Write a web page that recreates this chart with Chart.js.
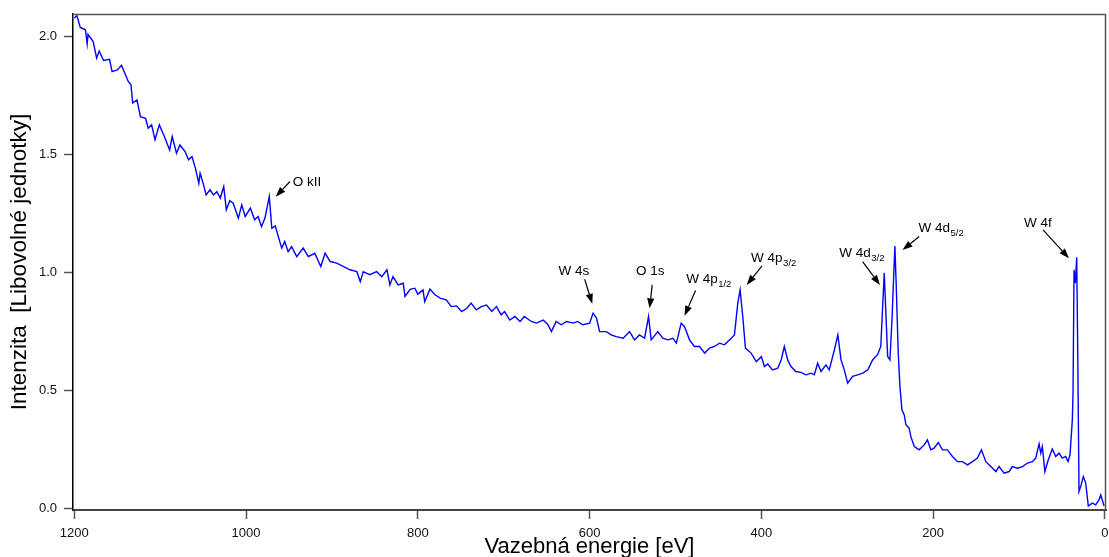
<!DOCTYPE html>
<html><head><meta charset="utf-8">
<script src="https://cdn.jsdelivr.net/npm/chart.js@4/dist/chart.umd.min.js"></script>
<style>html,body{margin:0;padding:0;background:#fff;overflow:hidden}canvas{display:block}</style>
</head><body>
<canvas id="c" width="1109" height="557"></canvas>
<script>
// Binding energy [eV] and intensity
const energy = [
1200,1197,1193,1187,1185,1184,1178,1174,1171,1166,1159,1156,1150,1145,1142,1137,1134,1132,1127,1123,
1117,1114,1110,1106,1101,1096,1089,1086,1081,1077,1071,1067,1063,1059,1055,1053.5,1050,1046.5,1042,1038,
1034,1030,1026,1023,1019,1015,1009,1005,1001,995,990,986,982,978,973,970,966,962.5,958.5,955,
951,947,941,933.5,927.5,920,913,908,902,894.5,887,879,871,867,863.6,856,848,842,836,832.5,
829,823,817,815,809,803.5,800,794,792,786,780,774,767,761,755,749,743,738,732,726,
720,714,708.5,703,699,693,687,681,676,668,662,654,648.5,644.5,639,633,627,619,614,608,
600,596,592,588.4,580.6,575,569,561,553.5,547.7,542,536,531.4,528.3,520.6,514.8,509,503,499,493.4,
489.5,483.7,478,472,466,460.5,454.7,448.8,443,437,431.4,427.5,424.8,421.7,418.6,412,406,404,400,396.5,
392.7,387,381,377,373.3,369.4,365.5,360,354,348,342,338.4,334.5,330.6,324.8,321,315,311,307.3,303.5,
299.6,293.8,288,282,276,270.6,264.8,261,257,253,250.4,248,244.6,243,240.7,238.7,236.4,233.7,231.7,228,
226,222,216.3,210.5,206.7,202.8,199,194,189.2,183.4,177.6,171.7,166,160,154.3,148.5,143.8,138.7,132.9,127,
123.3,117.4,111.6,107.8,102,96,90.3,84.5,80.6,76.7,74.8,72.9,70,66,61.3,57.4,53.5,49.7,45.8,43,
40.7,38,37.2,36,34.5,32.9,31.7,30.2,28.3,25.2,22.4,19.4,14.7,10.8,7,4.9,1
];
const intensity = [
2.08,2.09,2.04,2.03,1.97,2.01,1.98,1.91,1.94,1.90,1.905,1.853,1.86,1.88,1.853,1.81,1.797,1.72,1.733,1.662,
1.655,1.613,1.627,1.564,1.627,1.585,1.521,1.578,1.507,1.542,1.514,1.479,1.493,1.444,1.38,1.422,1.38,1.33,1.352,1.33,
1.344,1.317,1.366,1.267,1.306,1.295,1.232,1.288,1.239,1.274,1.225,1.239,1.196,1.232,1.323,1.189,1.199,1.154,1.105,1.133,
1.09,1.111,1.069,1.105,1.069,1.083,1.027,1.083,1.048,1.041,1.027,1.013,1.005,0.963,1.005,0.992,1.005,0.984,1.013,0.949,
0.984,0.949,0.956,0.90,0.93,0.935,0.91,0.928,0.878,0.931,0.907,0.893,0.886,0.857,0.86,0.836,0.85,0.872,0.843,0.857,
0.864,0.836,0.857,0.822,0.836,0.80,0.815,0.794,0.815,0.794,0.787,0.80,0.78,0.751,0.794,0.78,0.794,0.787,0.794,0.78,
0.787,0.829,0.808,0.751,0.751,0.737,0.73,0.723,0.751,0.716,0.737,0.723,0.815,0.716,0.751,0.723,0.716,0.723,0.702,0.787,
0.772,0.716,0.688,0.688,0.66,0.681,0.688,0.702,0.695,0.716,0.737,0.872,0.928,0.815,0.681,0.66,0.624,0.631,0.645,0.603,
0.614,0.589,0.596,0.631,0.688,0.631,0.603,0.582,0.578,0.568,0.575,0.568,0.617,0.582,0.61,0.589,0.674,0.737,0.631,0.589,
0.533,0.561,0.568,0.575,0.589,0.631,0.653,0.688,0.999,0.645,0.631,0.80,1.114,0.942,0.66,0.518,0.42,0.398,0.356,0.342,
0.306,0.264,0.25,0.271,0.292,0.25,0.257,0.281,0.25,0.25,0.222,0.20,0.20,0.186,0.20,0.215,0.25,0.20,0.179,0.158,
0.179,0.151,0.158,0.179,0.172,0.179,0.194,0.20,0.215,0.275,0.236,0.264,0.158,0.208,0.253,0.222,0.236,0.215,0.222,0.20,
0.229,0.377,0.49,1.013,0.956,1.066,0.66,0.073,0.094,0.137,0.109,0.012,0.024,0.017,0.038,0.059,0.012
];
const xTicks = [1200, 1000, 800, 600, 400, 200, 0];
const yTicks = [0, 0.5, 1.0, 1.5, 2.0];

// Peak annotations (data units: eV / intensity)
const labelMain  = ['O kII', 'W 4s', 'O 1s', 'W 4p', 'W 4p', 'W 4d', 'W 4d', 'W 4f'];
const labelSub   = ['', '', '', '1/2', '3/2', '3/2', '5/2', ''];
const labelAlign = ['left', 'center', 'center', 'left', 'left', 'left', 'left', 'left'];
const labelE     = [945.7, 618.4, 529.3, 487.6, 412, 309.3, 217.1, 94.2];
const labelI     = [1.366, 0.992, 0.992, 0.956, 1.044, 1.069, 1.175, 1.196];
const arrowFromE = [948.8, 605.8, 527.1, 476.7, 399.2, 282.2, 216.3, 72.1];
const arrowFromI = [1.387, 0.973, 0.949, 0.925, 1.03, 1.048, 1.154, 1.182];
const arrowToE   = [965.5, 596.9, 530.2, 489.5, 417.1, 262, 235.7, 41.9];
const arrowToI   = [1.323, 0.869, 0.850, 0.818, 0.949, 0.949, 1.097, 1.062];

const FAM = '"Liberation Sans", Arial, Helvetica, sans-serif';

const annotPlugin = {
  id: 'annot',
  afterDraw(chart) {
    const {ctx, chartArea: a, scales: {x, y}} = chart;
    ctx.save();
    // frame top/right
    ctx.strokeStyle = '#555';
    ctx.lineWidth = 1.5;
    ctx.beginPath();
    ctx.moveTo(a.left, a.top + 0.5);
    ctx.lineTo(a.right - 0.5, a.top + 0.5);
    ctx.lineTo(a.right - 0.5, a.bottom);
    ctx.stroke();

    ctx.fillStyle = '#000';
    ctx.strokeStyle = '#000';
    ctx.textBaseline = 'alphabetic';
    ctx.textAlign = 'left';
    for (let i = 0; i < labelMain.length; i++) {
      const px = x.getPixelForValue(labelE[i]);
      const py = y.getPixelForValue(labelI[i]);
      ctx.font = '13.5px ' + FAM;
      const wm = ctx.measureText(labelMain[i]).width;
      ctx.font = '9.5px ' + FAM;
      const ws = labelSub[i] ? ctx.measureText(labelSub[i]).width : 0;
      const sx = labelAlign[i] === 'center' ? px - (wm + ws) / 2 : px;
      ctx.font = '13.5px ' + FAM;
      ctx.fillText(labelMain[i], sx, py);
      if (labelSub[i]) {
        ctx.font = '9.5px ' + FAM;
        ctx.fillText(labelSub[i], sx + wm + 0.5, py + 4);
      }
      // arrow
      const x1 = x.getPixelForValue(arrowFromE[i]), y1 = y.getPixelForValue(arrowFromI[i]);
      const x2 = x.getPixelForValue(arrowToE[i]), y2 = y.getPixelForValue(arrowToI[i]);
      const ang = Math.atan2(y2 - y1, x2 - x1);
      const hl = 10, hw = 3.6;
      const bx = x2 - hl * Math.cos(ang), by = y2 - hl * Math.sin(ang);
      ctx.lineWidth = 1.2;
      ctx.beginPath();
      ctx.moveTo(x1, y1);
      ctx.lineTo(bx, by);
      ctx.stroke();
      ctx.beginPath();
      ctx.moveTo(x2, y2);
      ctx.lineTo(bx + hw * Math.sin(ang), by - hw * Math.cos(ang));
      ctx.lineTo(bx - hw * Math.sin(ang), by + hw * Math.cos(ang));
      ctx.closePath();
      ctx.fill();
    }
    ctx.restore();
  }
};

new Chart(document.getElementById('c'), {
  type: 'line',
  data: {
    datasets: [{
      data: energy.map((e, i) => ({x: e, y: intensity[i]})),
      borderColor: '#0000ff',
      borderWidth: 1.4,
      pointRadius: 0,
      tension: 0,
      fill: false
    }]
  },
  options: {
    responsive: false,
    animation: false,
    devicePixelRatio: 1,
    layout: {padding: {top: 14, right: 3, left: 0, bottom: 0}},
    plugins: {legend: {display: false}, tooltip: {enabled: false}},
    scales: {
      x: {
        type: 'linear',
        reverse: true,
        min: -1.2,
        max: 1201.5,
        afterBuildTicks: s => { s.ticks = xTicks.map(v => ({value: v})); },
        afterFit: s => { s.height = 47; s.paddingLeft = 0; s.paddingRight = 0; },
        grid: {drawOnChartArea: false, drawTicks: true, tickLength: 9, tickColor: '#555', tickWidth: 1.5},
        border: {display: true, color: '#444', width: 2},
        ticks: {font: {family: FAM, size: 13}, color: '#111', padding: 7, maxRotation: 0, autoSkip: false,
                callback: v => String(v)},
        title: {display: true, text: 'Vazebná energie [eV]', color: '#000',
                font: {family: FAM, size: 22, lineHeight: 1}, padding: {top: 0, bottom: -1.4}}
      },
      y: {
        type: 'linear',
        min: -0.005,
        max: 2.097,
        afterBuildTicks: s => { s.ticks = yTicks.map(v => ({value: v})); },
        afterFit: s => { s.width = 73; s.paddingTop = 0; s.paddingBottom = 0; },
        grid: {drawOnChartArea: false, drawTicks: true, tickLength: 9, tickColor: '#555', tickWidth: 1.5},
        border: {display: true, color: '#000', width: 1.5},
        ticks: {font: {family: FAM, size: 13}, color: '#111', padding: 7, autoSkip: false,
                callback: v => Number(v).toFixed(1)},
        title: {display: true, text: 'Intenzita  [Libovolné jednotky]', color: '#000',
                font: {family: FAM, size: 22.5, lineHeight: 1}, padding: {top: 9, bottom: 0}}
      }
    }
  },
  plugins: [annotPlugin]
});
</script>
</body></html>
